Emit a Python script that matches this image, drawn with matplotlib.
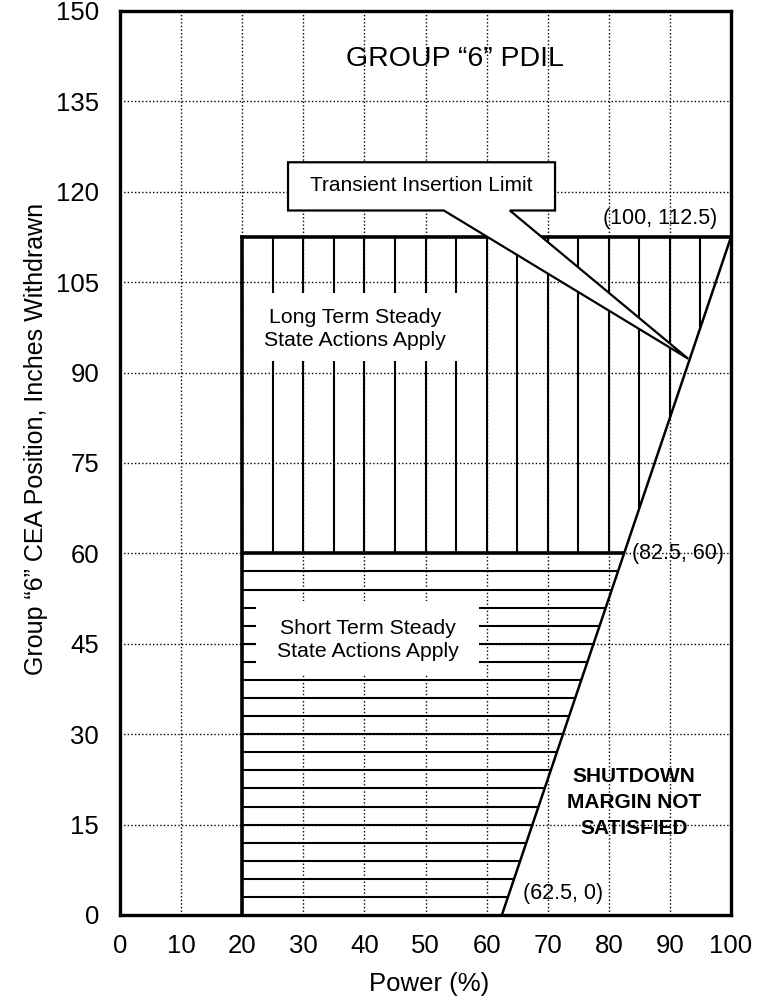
import numpy as np
import matplotlib
matplotlib.use("Agg")
import matplotlib.pyplot as plt
from matplotlib.patches import Rectangle, Polygon

plt.rcParams['font.family'] = ['Liberation Sans', 'DejaVu Sans']

# ---- data ----
power_ticks = [0, 10, 20, 30, 40, 50, 60, 70, 80, 90, 100]
position_ticks = [0, 15, 30, 45, 60, 75, 90, 105, 120, 135, 150]
pdil_power = [62.5, 82.5, 100.0]          # Transient insertion limit line
pdil_position = [0.0, 60.0, 112.5]
min_power = 20.0
long_term_lower = 60.0                     # boundary between short/long term regions
top_limit = 112.5
long_term_hatch_power = [25, 30, 35, 40, 45, 50, 55, 60, 65, 70, 75, 80, 85, 90, 95]
short_term_hatch_position = [3, 6, 9, 12, 15, 18, 21, 24, 27, 30, 33, 36, 39, 42, 45, 48, 51, 54, 57]
point_labels = ["(100, 112.5)", "(82.5, 60)", "(62.5, 0)"]


def limit_position(p):
    return np.interp(p, pdil_power, pdil_position)


def limit_power(y):
    return np.interp(y, pdil_position, pdil_power)


fig = plt.figure(figsize=(7.74, 10.02), dpi=100)
ax = fig.add_axes([120 / 774, 1 - 915 / 1002, 611 / 774, 904 / 1002])
ax.set_xlim(0, 100)
ax.set_ylim(0, 150)
ax.set_xticks(power_ticks)
ax.set_yticks(position_ticks)
ax.set_axisbelow(True)
ax.grid(True, color='black', linestyle=(0, (1, 1.6)), linewidth=1.0)
for s in ax.spines.values():
    s.set_linewidth(2.4)
ax.tick_params(length=0, labelsize=18.5)
ax.tick_params(axis='y', pad=15)
ax.tick_params(axis='x', pad=14)

ax.set_xlabel("Power (%)", fontsize=18.5)
ax.set_ylabel("Group \u201c6\u201d CEA Position, Inches Withdrawn", fontsize=18)
ax.xaxis.set_label_coords(0.506, -0.063)
ax.yaxis.set_label_coords(-0.118, 0.527)

# long term vertical hatching
for p in long_term_hatch_power:
    y0 = max(long_term_lower, float(limit_position(p)))
    ax.plot([p, p], [y0, top_limit], color='black', lw=1.5, zorder=3,
            solid_capstyle='butt')
# short term horizontal hatching
for y in short_term_hatch_position:
    ax.plot([min_power, float(limit_power(y))], [y, y], color='black', lw=1.5,
            zorder=3, solid_capstyle='butt')

# boundary lines
ax.plot([min_power, min_power], [0, top_limit], color='black', lw=2.6, zorder=4,
        solid_capstyle='projecting')
ax.plot([min_power, 100], [top_limit, top_limit], color='black', lw=2.6, zorder=4,
        solid_capstyle='projecting')
ax.plot([min_power, pdil_power[1]], [long_term_lower, long_term_lower], color='black',
        lw=2.6, zorder=4, solid_capstyle='butt')
ax.plot(pdil_power, pdil_position, color='black', lw=1.8, zorder=4)

# region labels with white backgrounds
ax.add_patch(Rectangle((22.2, 92.0), 36.2, 11.2, facecolor='white', edgecolor='none', zorder=5))
ax.text(38.5, 97.3, "Long Term Steady\nState Actions Apply", fontsize=15.3,
        ha='center', va='center', linespacing=1.27, zorder=6)
ax.add_patch(Rectangle((22.2, 39.8), 36.6, 12.3, facecolor='white', edgecolor='none', zorder=5))
ax.text(40.6, 45.6, "Short Term Steady\nState Actions Apply", fontsize=15.3,
        ha='center', va='center', linespacing=1.27, zorder=6)

# title
ax.text(54.8, 142.0, "GROUP \u201c6\u201d PDIL", fontsize=20.5, ha='center', va='center', zorder=6)

# callout
tip = (93.0, float(limit_position(93.0)) + 0.8)
callout = [(27.5, 124.9), (71.2, 124.9), (71.2, 116.9), (63.8, 116.9), tip,
           (53.0, 116.9), (27.5, 116.9)]
ax.add_patch(Polygon(callout, closed=True, facecolor='white', edgecolor='black',
                     lw=1.6, zorder=7, joinstyle='miter'))
ax.text(49.3, 121.0, "Transient Insertion Limit", fontsize=15, ha='center',
        va='center', zorder=8)

# point labels
ax.text(97.8, 115.6, point_labels[0], fontsize=15.5, ha='right', va='center', zorder=6)
ax.text(83.8, pdil_position[1], point_labels[1], fontsize=15.5, ha='left', va='center', zorder=6)
ax.text(66.0, 3.6, point_labels[2], fontsize=15.5, ha='left', va='center', zorder=6)

ax.text(84.1, 18.7, "SHUTDOWN\nMARGIN NOT\nSATISFIED", fontsize=15, fontweight='bold',
        ha='center', va='center', linespacing=1.45, zorder=6)

fig.savefig("out.png", dpi=100)
